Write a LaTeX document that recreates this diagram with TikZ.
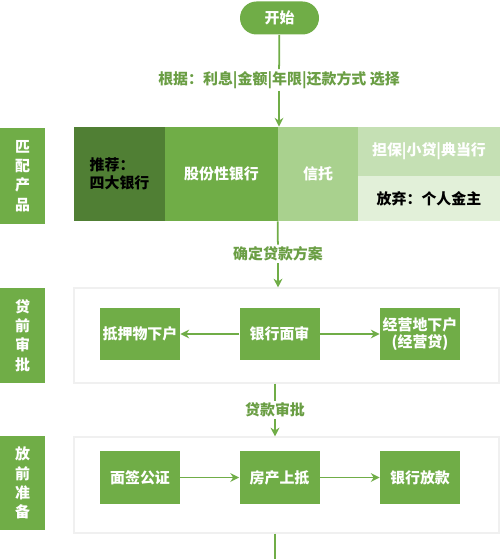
\documentclass[tikz,border=0pt]{standalone}
\usepackage{fontspec}
\setmainfont{Noto Sans CJK SC}
\usetikzlibrary{calc,positioning,arrows.meta}
\definecolor{gmain}{HTML}{70AD47}
\definecolor{gdark}{HTML}{507F34}
\definecolor{glight}{HTML}{A9D18E}
\definecolor{glighter}{HTML}{C5E0B4}
\definecolor{glightest}{HTML}{E2F0D9}
\definecolor{gtext}{HTML}{6A9E44}

\begin{document}
\begin{tikzpicture}[font=\bfseries\fontsize{8.5}{10}\selectfont]
\useasboundingbox (0,0) rectangle (10,-11.18);
\tikzstyle{cell}=[draw=none, inner sep=0pt, minimum height=1.88cm, align=center]
\tikzstyle{side}=[fill=gmain, text=white, inner sep=0pt, minimum width=0.9cm, align=center, font=\bfseries\fontsize{8.5}{11}\selectfont]
\tikzstyle{step box}=[fill=gmain, text=white, inner sep=0pt, minimum width=1.6cm, minimum height=1.05cm, align=center]
\tikzstyle{panel}=[draw=black!6, line width=0.6pt, fill=white, minimum width=8.5cm, minimum height=1.9cm]
\tikzstyle{note}=[fill=white, text=gtext, inner sep=1pt]
\tikzstyle{link}=[gmain, line width=1pt]
\tikzstyle{arrow}=[link, -{Stealth[length=5pt,width=5pt]}]

\node[fill=gmain, text=white, rounded corners=0.33cm, minimum width=1.58cm, minimum height=0.66cm] (start) at (5.59,-0.36) {开始};
\node[note] (crit) at (5.58,-1.6) {根据：利息|金额|年限|还款方式 选择};

\node[side, minimum height=1.92cm] (lab1) at (0.45,-3.52) {匹\\配\\产\\品};
\node[cell, fill=gdark, text=black, minimum width=1.82cm, align=left] (c1) at (2.39,-3.48) {推荐：\\四大银行};
\node[cell, fill=gmain, text=white, minimum width=2.26cm] (c2) at (4.43,-3.48) {股份性银行};
\node[cell, fill=glight, text=white, minimum width=1.6cm] (c3) at (6.36,-3.48) {信托};
\node[cell, fill=glighter, text=white, minimum width=2.84cm, minimum height=0.98cm] (c4) at (8.58,-3.03) {担保|小贷|典当行};
\node[cell, fill=glightest, text=black, minimum width=2.84cm, minimum height=0.9cm] (c5) at (8.58,-3.97) {放弃：个人金主};
\node[note] (plan) at (5.56,-5.08) {确定贷款方案};

\node[side, minimum height=1.9cm] (lab2) at (0.45,-6.71) {贷\\前\\审\\批};
\node[panel] (panel2) at (5.73,-6.71) {};
\node[step box] (down) at (2.8,-6.68) {抵押物下户};
\node[step box] (review) at (5.59,-6.68) {银行面审};
\node[step box] (biz) at (8.4,-6.68) {经营地下户\\(经营贷)};
\node[note] (loan) at (5.5,-8.2) {贷款审批};

\node[side, minimum height=1.88cm] (lab3) at (0.45,-9.66) {放\\前\\准\\备};
\node[panel, minimum height=1.92cm] (panel3) at (5.73,-9.7) {};
\node[step box] (sign) at (2.8,-9.55) {面签公证};
\node[step box] (mort) at (5.59,-9.55) {房产上抵};
\node[step box] (pay) at (8.4,-9.55) {银行放款};
\coordinate (end) at (5.5,-11.18);

\draw[link] (start) -- (crit);
\draw[arrow] (crit) -- (crit |- c3.north);
\draw[link] (c3.south west) -- (plan);
\draw[arrow] (plan) -- (plan |- panel2.north);
\draw[arrow] (review) -- (down);
\draw[arrow] (review) -- (biz);
\draw[link] (loan |- panel2.south) -- (loan);
\draw[arrow] (loan) -- (loan |- panel3.north);
\draw[arrow] (sign) -- (mort);
\draw[arrow] (mort) -- (pay);
\draw[link] (panel3.south -| end) -- (end);
\end{tikzpicture}
\end{document}
